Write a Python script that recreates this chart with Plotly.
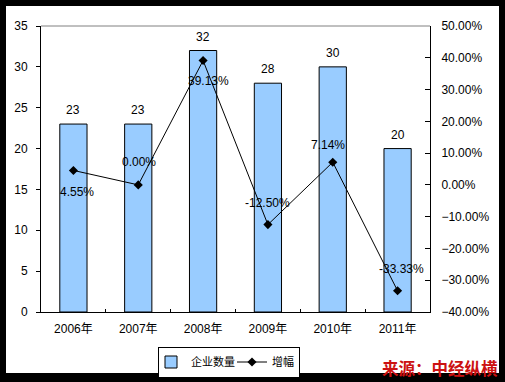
import plotly.graph_objects as go

years = ["2006年", "2007年", "2008年", "2009年", "2010年", "2011年"]
companies = [23, 23, 32, 28, 30, 20]
growth = [0.0455, 0.0000, 0.3913, -0.1250, 0.0714, -0.3333]
growth_labels = ["4.55%", "0.00%", "39.13%", "-12.50%", "7.14%", "-33.33%"]

# label offsets (pixels) for line labels, matched to the reference layout
growth_dx = [4, 1, 5, 0, -5, 4]
growth_dy = [-22, 23, -20, 22, 17, 22]

W, H = 505, 382
L, R, T, B = 41, 430, 26, 312

FONT = "Liberation Sans, Arial, Noto Sans CJK SC, sans-serif"

fig = go.Figure()
fig.add_trace(go.Bar(
    x=years, y=companies, name="企业数量",
    marker=dict(color="#99CCFF", line=dict(color="black", width=1)),
    width=0.42, yaxis="y",
))
fig.add_trace(go.Scatter(
    x=years, y=growth, name="增幅", mode="lines+markers",
    line=dict(color="black", width=1),
    marker=dict(symbol="diamond", size=7, color="black"),
    yaxis="y2",
))

ann = []
for x, v in zip(years, companies):
    ann.append(dict(x=x, y=v, xref="x", yref="y", text=str(v), showarrow=False,
                    yshift=14, font=dict(size=12, color="black", family=FONT)))
for x, v, t, dx, dy in zip(years, growth, growth_labels, growth_dx, growth_dy):
    ann.append(dict(x=x, y=v, xref="x", yref="y2", text=t, showarrow=False,
                    xshift=dx, yshift=dy, font=dict(size=12, color="black", family=FONT)))

def px2x(p):
    return (p - L) / (R - L)

def py2y(p):
    return (B - p) / (B - T)

ann.append(dict(x=px2x(440), y=py2y(368), xref="paper", yref="paper",
                xanchor="center", yanchor="middle",
                text="<b>来源：中经纵横</b>", showarrow=False,
                font=dict(size=16.5, color="#CC1111", family="Noto Sans CJK SC")))

shapes = [
    dict(type="rect", xref="paper", yref="paper", x0=px2x(6), x1=px2x(499),
         y0=py2y(373), y1=py2y(6), fillcolor="white", line=dict(width=0), layer="below"),
    dict(type="line", xref="paper", yref="paper", x0=0, x1=1, y0=1, y1=1,
         line=dict(color="#808080", width=1)),
]

fig.update_layout(
    width=W, height=H,
    margin=dict(l=L, r=W - R, t=T, b=H - B, pad=0, autoexpand=False),
    paper_bgcolor="black", plot_bgcolor="white",
    font=dict(family=FONT, size=12, color="black"),
    xaxis=dict(showline=True, linecolor="black", linewidth=1, ticks="inside",
               tickson="boundaries", ticklen=3, tickcolor="black",
               showgrid=False, tickfont=dict(size=12), ticklabelstandoff=6,
               automargin=False),
    yaxis=dict(range=[0, 35], dtick=5, showline=True, linecolor="black", linewidth=1,
               ticks="outside", ticklen=4, tickcolor="black", showgrid=False,
               zeroline=False, tickfont=dict(size=12), ticklabelstandoff=6,
               automargin=False),
    yaxis2=dict(range=[-0.4, 0.5], dtick=0.1, tickformat=".2%", overlaying="y",
                side="right", showline=True, linecolor="black", linewidth=1,
                ticks="inside", ticklen=5, tickcolor="black", showgrid=False,
                zeroline=False, tickfont=dict(size=12), ticklabelstandoff=8,
                automargin=False),
    legend=dict(orientation="h", x=px2x(158), xanchor="left", y=py2y(362), yanchor="middle",
                bordercolor="black", borderwidth=1, bgcolor="white",
                font=dict(size=11), itemwidth=30, tracegroupgap=0, indentation=-8),
    annotations=ann,
    shapes=shapes,
    showlegend=True,
)

fig.write_html("out.html",
               config={"displayModeBar": False},
               post_script="document.body.style.margin='0';document.body.style.overflow='hidden';")
